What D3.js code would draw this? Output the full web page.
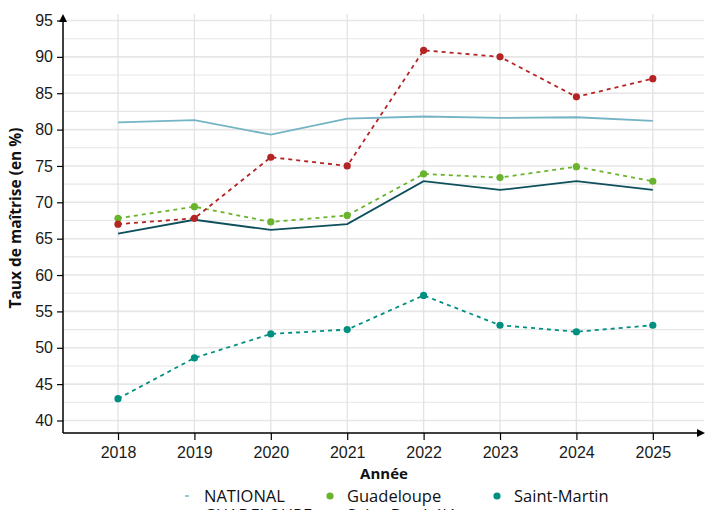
<!DOCTYPE html>
<html><head><meta charset="utf-8">
<script src="https://cdn.jsdelivr.net/npm/d3@7"></script>
<style>body{margin:0;background:#fff}svg{display:block;font-family:"Open Sans",sans-serif}</style>
</head><body><svg id="c" width="707" height="510"></svg>
<script>
const years = [2018, 2019, 2020, 2021, 2022, 2023, 2024, 2025];
const national = [81.0, 81.3, 79.3, 81.5, 81.8, 81.6, 81.7, 81.2];
const guadeloupeAcad = [65.7, 67.6, 66.2, 67.0, 72.9, 71.7, 72.9, 71.7];
const guadeloupe = [67.8, 69.4, 67.3, 68.2, 73.9, 73.4, 74.9, 72.9];
const saintBarth = [67.0, 67.8, 76.2, 75.0, 90.9, 90.0, 84.5, 87.0];
const saintMartin = [43.0, 48.6, 51.9, 52.5, 57.2, 53.1, 52.2, 53.1];
const yTicks = [40, 45, 50, 55, 60, 65, 70, 75, 80, 85, 90, 95];
const series = [
  {name: "NATIONAL", values: national, color: "#74b4c4", dash: null, points: false},
  {name: "GUADELOUPE", values: guadeloupeAcad, color: "#0d4f5b", dash: null, points: false},
  {name: "Guadeloupe", values: guadeloupe, color: "#6ab42d", dash: "4,4", points: true},
  {name: "Saint-Barthélémy", values: saintBarth, color: "#b42424", dash: "4,4", points: true},
  {name: "Saint-Martin", values: saintMartin, color: "#009081", dash: "4,4", points: true}
];
(function(){
const svg = d3.select("#c");
const pl = 63, pr = 704, pt = 14, pb = 433;
const x = d3.scaleLinear().domain([2017.28, 2025.67]).range([pl, pr]);
const y = d3.scaleLinear().domain([40, 95]).range([420.5, 20.5]);

// grid
const minor = d3.range(40, 95.1, 2.5);
svg.append("g").selectAll("line").data(minor).join("line")
  .attr("x1", pl).attr("x2", pr).attr("y1", d => y(d)).attr("y2", d => y(d))
  .attr("stroke", "#e6e6e6").attr("stroke-width", d => d % 5 === 0 ? 1.6 : 1.1);
svg.append("g").selectAll("line").data(years).join("line")
  .attr("x1", d => x(d)).attr("x2", d => x(d)).attr("y1", pt).attr("y2", pb)
  .attr("stroke", "#e3e3e3").attr("stroke-width", 1.3);

// axes
const yAxis = d3.axisLeft(y).tickValues(yTicks).tickSize(6).tickPadding(4);
const gy = svg.append("g").attr("transform", `translate(${pl},0)`).call(yAxis);
gy.select(".domain").remove();
gy.selectAll("text").attr("font-size", 16).attr("fill", "#1a1a1a");
const xAxis = d3.axisBottom(x).tickValues(years).tickFormat(d3.format("d")).tickSize(7).tickPadding(7);
const gx = svg.append("g").attr("transform", `translate(0,${pb})`).call(xAxis);
gx.select(".domain").remove();
gx.selectAll("text").attr("font-size", 16).attr("fill", "#1a1a1a");
svg.selectAll(".tick line").attr("stroke", "#000").attr("stroke-width", 1.2);
svg.append("line").attr("x1", pl).attr("x2", pl).attr("y1", pt + 4).attr("y2", pb).attr("stroke", "#000").attr("stroke-width", 1.5);
svg.append("line").attr("x1", pl).attr("x2", pr - 5).attr("y1", pb).attr("y2", pb).attr("stroke", "#000").attr("stroke-width", 1.5);
svg.append("path").attr("d", `M${pl},${pt} L${pl-4},${pt+8} L${pl+4},${pt+8} Z`).attr("fill", "#000");
svg.append("path").attr("d", `M${pr+1},${pb} L${pr-7},${pb-4} L${pr-7},${pb+4} Z`).attr("fill", "#000");

// lines
const line = d3.line().x((d, i) => x(years[i])).y(d => y(d));
series.forEach(s => {
  svg.append("path").datum(s.values).attr("d", line).attr("fill", "none")
    .attr("stroke", s.color).attr("stroke-width", 1.8).attr("stroke-dasharray", s.dash);
  if (s.points) {
    svg.append("g").selectAll("circle").data(s.values).join("circle")
      .attr("cx", (d, i) => x(years[i])).attr("cy", d => y(d)).attr("r", 3.6).attr("fill", s.color);
  }
});

// titles
svg.append("text").attr("x", 384).attr("y", 479).attr("text-anchor", "middle")
  .attr("font-size", 15).attr("font-weight", "bold").attr("fill", "#111").text("Année");
svg.append("text").attr("transform", "translate(21,218) rotate(-90)").attr("text-anchor", "middle")
  .attr("font-size", 15.5).attr("font-weight", "bold").attr("fill", "#111").text("Taux de maîtrise (en %)");

// legend
const legPos = [[187, 496], [187, 515], [330, 496], [330, 515], [497, 496]];
series.forEach((s, i) => {
  const [lx, ly] = legPos[i];
  const g = svg.append("g").attr("transform", `translate(${lx},${ly})`);
  if (s.points) g.append("circle").attr("r", 3.6).attr("fill", s.color);
  else g.append("line").attr("x1", -2).attr("x2", 2).attr("stroke", s.color).attr("stroke-width", 1.5);
  g.append("text").attr("x", 17).attr("dy", "0.35em").attr("font-size", 16.5).attr("fill", "#111").text(s.name);
});
})();
</script></body></html>
